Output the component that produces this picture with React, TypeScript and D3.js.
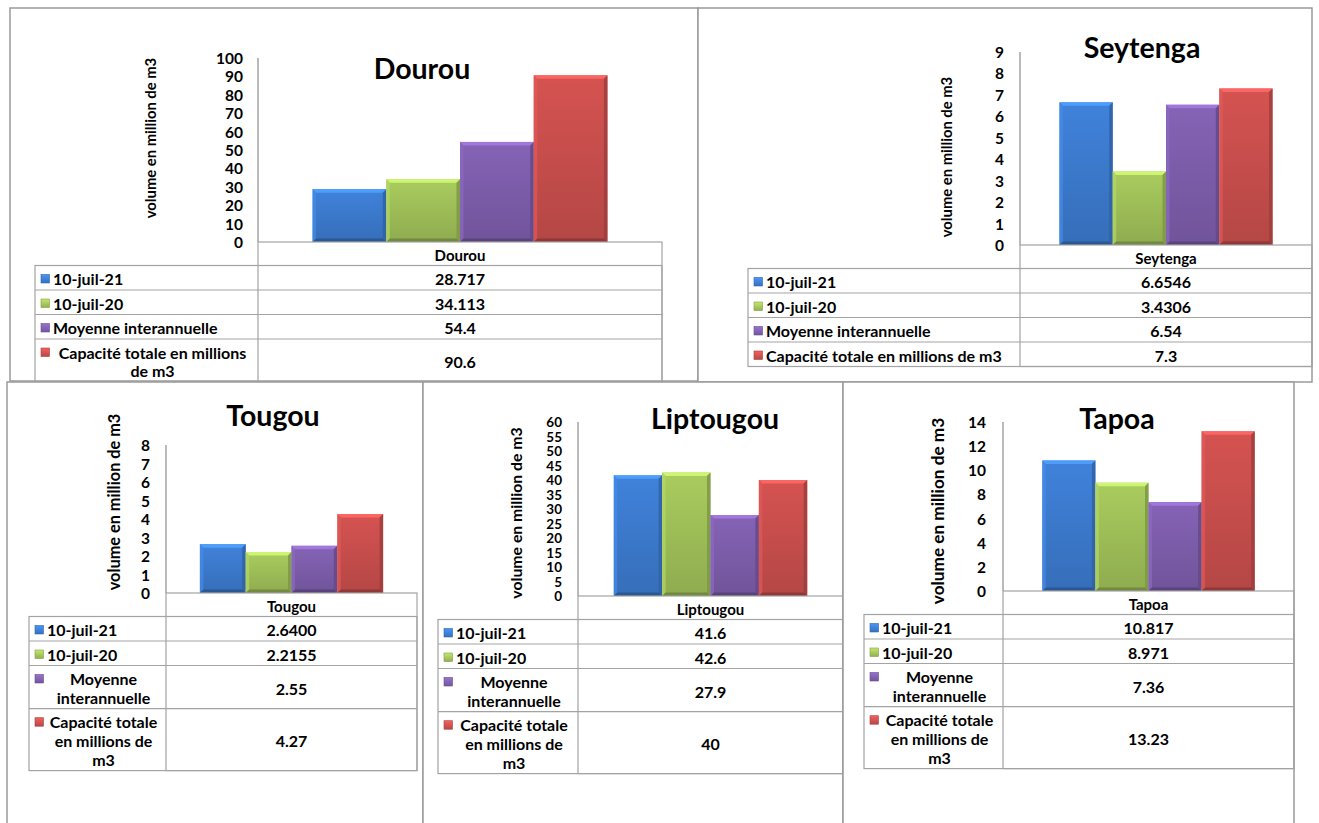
import React from "react";
import * as d3 from "d3";

// ---------- DATA ----------
const reservoirs = ["Dourou", "Seytenga", "Tougou", "Liptougou", "Tapoa"];
const seriesNames = [
  "10-juil-21",
  "10-juil-20",
  "Moyenne interannuelle",
  "Capacité totale en millions de m3",
];
const juil21 = ["28.717", "6.6546", "2.6400", "41.6", "10.817"];
const juil20 = ["34.113", "3.4306", "2.2155", "42.6", "8.971"];
const moyenne = ["54.4", "6.54", "2.55", "27.9", "7.36"];
const capacite = ["90.6", "7.3", "4.27", "40", "13.23"];
const yMaxes = [100, 9, 8, 60, 14];
const ySteps = [10, 1, 1, 5, 2];
const axisTitle = "volume en million de m3";
const seriesColors = ["#3D7DD2", "#A2C35A", "#7F5FAE", "#CC504E"];

const seriesValues = [juil21, juil20, moyenne, capacite];

// words per wrapped line of each legend label, per panel
const legendWraps = [
  [[1], [1], [2], [4, 2]],
  [[1], [1], [2], [6]],
  [[1], [1], [1, 1], [2, 3, 1]],
  [[1], [1], [1, 1], [2, 3, 1]],
  [[1], [1], [1, 1], [2, 3, 1]],
];

// ---------- LAYOUT ----------
type Layout = {
  box: [number, number, number, number];
  axisX: number;
  plotRight: number;
  yTop: number;
  yBottom: number;
  labelRight: number;
  axisTitleX: number;
  axisTitleY: number;
  titleX: number;
  titleY: number;
  legendLeft: number;
  axisFont: number;
  tickFont: number;
};

const layouts: Layout[] = [
  { box: [10, 8, 698, 381], axisX: 258, plotRight: 662, yTop: 58, yBottom: 242, labelRight: 243, axisTitleX: 150, axisTitleY: 138, titleX: 422, titleY: 68, legendLeft: 35, axisFont: 14.8, tickFont: 15.5 },
  { box: [698, 8, 1312, 382], axisX: 1020, plotRight: 1312, yTop: 52, yBottom: 245, labelRight: 1004, axisTitleX: 946, axisTitleY: 157, titleX: 1142, titleY: 47, legendLeft: 748, axisFont: 14.8, tickFont: 15.5 },
  { box: [7, 382, 423, 830], axisX: 166, plotRight: 417, yTop: 445, yBottom: 593, labelRight: 150, axisTitleX: 113, axisTitleY: 502, titleX: 273, titleY: 415, legendLeft: 29, axisFont: 16.3, tickFont: 15.5 },
  { box: [423, 382, 843, 830], axisX: 578, plotRight: 843, yTop: 422, yBottom: 596, labelRight: 562, axisTitleX: 515, axisTitleY: 513, titleX: 715, titleY: 418, legendLeft: 438, axisFont: 15.8, tickFont: 13.5 },
  { box: [843, 382, 1294, 830], axisX: 1003, plotRight: 1294, yTop: 422, yBottom: 591, labelRight: 986, axisTitleX: 937, axisTitleY: 511, titleX: 1117, titleY: 418, legendLeft: 864, axisFont: 17.2, tickFont: 15.5 },
];

const FONT = "Lato, 'Open Sans', 'DejaVu Sans', sans-serif";
const TABLE_FS = 16;
const TITLE_FS = 28.5;
const HEADER_H = 23.5;
const ROW_H = 24.5;
const LINE_H = 18.7;
const GRID = "#a3a3a3";
const BORDER = "#9a9a9a";

function splitLines(text: string, counts: number[]) {
  const words = text.split(" ");
  const out: string[] = [];
  let p = 0;
  counts.forEach((c) => {
    out.push(words.slice(p, p + c).join(" "));
    p += c;
  });
  return out;
}

function Bar({ x, y, w, h, color, id }: { x: number; y: number; w: number; h: number; color: string; id: string }) {
  const b = Math.min(3.5, h / 3);
  const c = d3.color(color)!;
  const light = c.brighter(0.7).formatHex();
  const dark = c.darker(0.7).formatHex();
  const darker = c.darker(1.1).formatHex();
  return (
    <g>
      <defs>
        <linearGradient id={id} x1="0" y1="0" x2="0" y2="1">
          <stop offset="0" stopColor={c.brighter(0.12).formatHex()} />
          <stop offset="1" stopColor={c.darker(0.35).formatHex()} />
        </linearGradient>
      </defs>
      <rect x={x} y={y} width={w} height={h} fill={`url(#${id})`} />
      <polygon points={`${x},${y} ${x + w},${y} ${x + w - b},${y + b} ${x + b},${y + b}`} fill={light} opacity={0.9} />
      <polygon points={`${x},${y} ${x + b},${y + b} ${x + b},${y + h - b} ${x},${y + h}`} fill={c.brighter(0.3).formatHex()} opacity={0.7} />
      <polygon points={`${x + w},${y} ${x + w},${y + h} ${x + w - b},${y + h - b} ${x + w - b},${y + b}`} fill={dark} opacity={0.85} />
      <polygon points={`${x},${y + h} ${x + b},${y + h - b} ${x + w - b},${y + h - b} ${x + w},${y + h}`} fill={darker} opacity={0.85} />
    </g>
  );
}

function Panel({ i }: { i: number }) {
  const L = layouts[i];
  const name = reservoirs[i];
  const values = seriesValues.map((s) => +s[i]);
  const labels = seriesValues.map((s) => s[i]);
  const [bx0, by0, bx1, by1] = L.box;

  const y = d3.scaleLinear().domain([0, yMaxes[i]]).range([L.yBottom, L.yTop]);
  const ticks = d3.range(0, yMaxes[i] + ySteps[i] / 2, ySteps[i]);
  const x0 = d3.scaleBand<string>().domain([name]).range([L.axisX, L.plotRight]).paddingInner(0).paddingOuter(0.185);
  const x1 = d3.scaleBand<string>().domain(seriesNames).range([0, x0.bandwidth()]).padding(0);

  const rows = seriesNames.map((s, k) => splitLines(s, legendWraps[i][k]));
  const rowHeights = rows.map((ls) => ROW_H + (ls.length - 1) * LINE_H);
  const rowTops: number[] = [];
  let acc = L.yBottom + HEADER_H;
  rowHeights.forEach((h) => {
    rowTops.push(acc);
    acc += h;
  });
  const tableBottom = acc;
  const valueX = (L.axisX + L.plotRight) / 2;
  const centerX = (L.legendLeft + L.axisX) / 2 + 6;

  return (
    <g>
      <rect x={bx0} y={by0} width={bx1 - bx0} height={by1 - by0} fill="#fff" stroke={BORDER} strokeWidth={1.5} />
      {/* title */}
      <text x={L.titleX} y={L.titleY} textAnchor="middle" dominantBaseline="central" fontFamily={FONT} fontWeight="bold" fontSize={TITLE_FS} fill="#000">
        {name}
      </text>
      {/* axis title */}
      <text
        transform={`translate(${L.axisTitleX},${L.axisTitleY}) rotate(-90)`}
        textAnchor="middle"
        dominantBaseline="central"
        fontFamily={FONT}
        fontWeight="bold"
        fontSize={L.axisFont}
        fill="#000"
      >
        {axisTitle}
      </text>
      {/* ticks */}
      {ticks.map((t) => (
        <text key={t} x={L.labelRight} y={y(t)} textAnchor="end" dominantBaseline="central" fontFamily={FONT} fontWeight="bold" fontSize={L.tickFont} fill="#000">
          {t}
        </text>
      ))}
      <line x1={L.axisX} x2={L.axisX} y1={y(yMaxes[i])} y2={L.yBottom} stroke="#8c8c8c" strokeWidth={1.2} />
      {/* bars */}
      {seriesNames.map((s, k) => {
        const bx = (x0(name) ?? 0) + (x1(s) ?? 0);
        const top = y(values[k]);
        return <Bar key={s} id={`g${i}_${k}`} x={bx} y={top} w={x1.bandwidth()} h={L.yBottom - top} color={seriesColors[k]} />;
      })}
      {/* table */}
      <g fill="none" stroke={GRID} strokeWidth={1.2}>
        <rect x={L.axisX} y={L.yBottom} width={L.plotRight - L.axisX} height={tableBottom - L.yBottom} />
        <rect x={L.legendLeft} y={L.yBottom + HEADER_H} width={L.plotRight - L.legendLeft} height={tableBottom - L.yBottom - HEADER_H} />
        {rowTops.map((t, k) => (
          <line key={k} x1={L.legendLeft} x2={L.plotRight} y1={t} y2={t} />
        ))}
      </g>
      <text x={valueX} y={L.yBottom + HEADER_H / 2 + 1} textAnchor="middle" dominantBaseline="central" fontFamily={FONT} fontWeight="bold" fontSize={TABLE_FS - 1} fill="#000">
        {name}
      </text>
      {rows.map((ls, k) => {
        const top = rowTops[k];
        const h = rowHeights[k];
        const firstY = top + h / 2 - ((ls.length - 1) * LINE_H) / 2 + 1;
        const mk = 8.5;
        const c = d3.color(seriesColors[k])!;
        return (
          <g key={k}>
            <defs>
              <linearGradient id={`m${i}_${k}`} x1="0" y1="0" x2="0" y2="1">
                <stop offset="0" stopColor={c.brighter(0.5).formatHex()} />
                <stop offset="1" stopColor={c.darker(0.3).formatHex()} />
              </linearGradient>
            </defs>
            <rect x={L.legendLeft + 6} y={firstY - mk / 2} width={mk} height={mk} fill={`url(#m${i}_${k})`} stroke={c.darker(0.6).formatHex()} strokeWidth={0.6} />
            {ls.map((line, j) => (
              <text
                key={j}
                x={ls.length === 1 ? L.legendLeft + 18 : centerX}
                y={firstY + j * LINE_H}
                textAnchor={ls.length === 1 ? "start" : "middle"}
                dominantBaseline="central"
                fontFamily={FONT}
                fontWeight="bold"
                fontSize={TABLE_FS}
                fill="#000"
              >
                {line}
              </text>
            ))}
            <text x={valueX} y={top + h / 2 + 1} textAnchor="middle" dominantBaseline="central" fontFamily={FONT} fontWeight="bold" fontSize={TABLE_FS} fill="#000">
              {labels[k]}
            </text>
          </g>
        );
      })}
    </g>
  );
}

export default function App() {
  return (
    <div style={{ position: "absolute", left: 0, top: 0 }}>
      <style>{`body{margin:0;background:#fff}`}</style>
      <svg width={1319} height={823} viewBox="0 0 1319 823" style={{ display: "block", background: "#fff" }}>
        {reservoirs.map((_, i) => (
          <Panel key={i} i={i} />
        ))}
      </svg>
    </div>
  );
}
